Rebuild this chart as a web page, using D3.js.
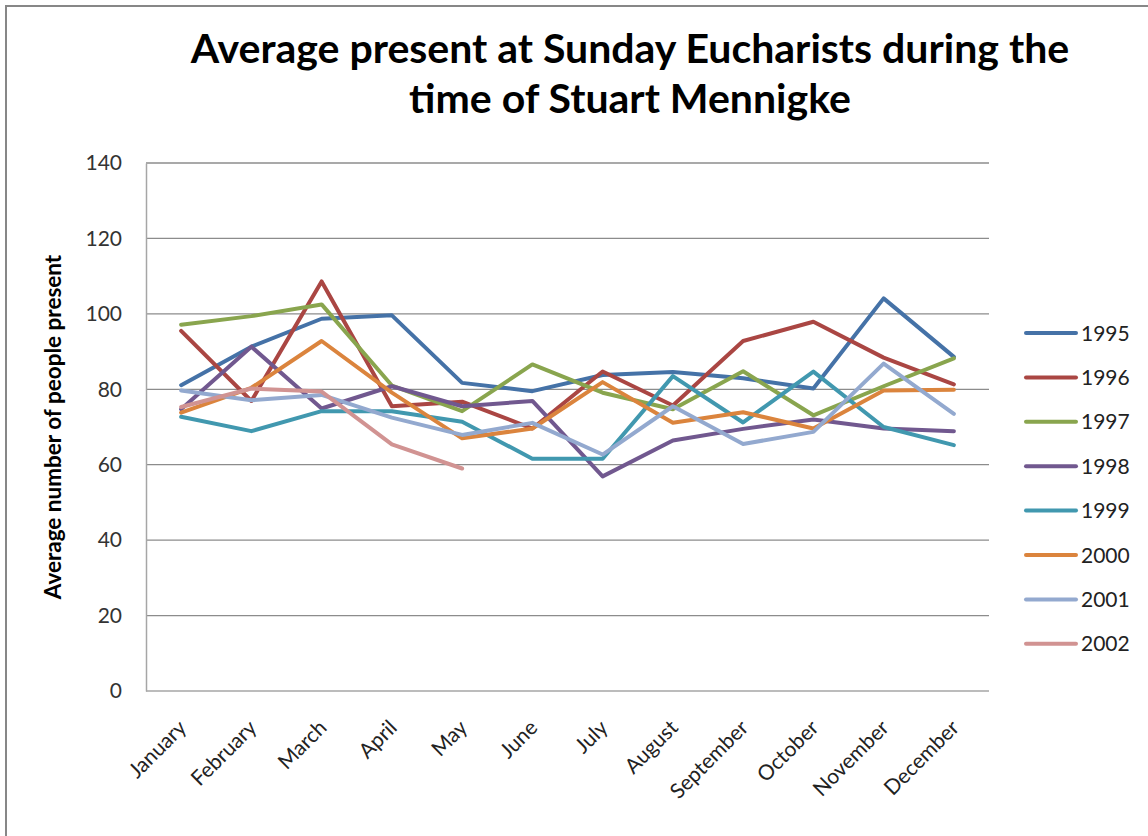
<!DOCTYPE html>
<html lang="en">
<head>
<meta charset="UTF-8">
<title>Average present at Sunday Eucharists</title>
<script src="https://cdn.jsdelivr.net/npm/d3@7"></script>
<style>
    body { margin: 0; background: #fff; }
    svg text { font-family: Lato, "Open Sans", "DejaVu Sans", sans-serif; }
</style>
</head>
<body>
<div id="chart"></div>
<script>
    // categories and series
    const months = ["January", "February", "March", "April", "May", "June",
        "July", "August", "September", "October", "November", "December"];
    const years = ["1995", "1996", "1997", "1998", "1999", "2000", "2001", "2002"];
    const colors = ["#4572A7", "#AA4643", "#89A54E", "#71588F", "#4198AF", "#DB843D", "#93A9CF", "#D19392"];

    const v1995 = [81.1, 91.3, 98.7, 99.6, 81.7, 79.5, 83.8, 84.6, 82.9, 80.2, 104.1, 88.6];
    const v1996 = [95.5, 76.9, 108.6, 75.5, 76.7, 69.6, 84.7, 75.7, 92.8, 97.9, 88.4, 81.3];
    const v1997 = [97.1, 99.4, 102.5, 81.0, 74.2, 86.6, 79.1, 74.7, 84.8, 73.1, 80.8, 88.2];
    const v1998 = [74.7, 91.3, 74.9, 80.8, 75.5, 76.9, 56.9, 66.4, 69.5, 72.0, 69.6, 68.9];
    const v1999 = [72.7, 68.9, 74.2, 74.2, 71.4, 61.6, 61.6, 83.5, 71.2, 84.7, 70.0, 65.2];
    const v2000 = [73.8, 80.4, 92.8, 79.1, 67.0, 69.6, 81.9, 71.1, 73.9, 69.6, 79.7, 79.9];
    const v2001 = [79.7, 77.1, 78.5, 72.5, 67.9, 71.1, 62.7, 75.5, 65.5, 68.7, 86.8, 73.5];
    const v2002 = [75.3, 80.2, 79.4, 65.4, 59.0];
    const yTicks = [0, 20, 40, 60, 80, 100, 120, 140];

    const seriesValues = [v1995, v1996, v1997, v1998, v1999, v2000, v2001, v2002];

    const width = 1148, height = 836;
    const plot = { left: 146, right: 989, top: 163, bottom: 691 };

    const svg = d3.select("#chart").append("svg")
        .attr("width", width)
        .attr("height", height);

    // outer chart frame (runs off the right and bottom of the picture)
    svg.append("rect")
        .attr("x", 6).attr("y", 6)
        .attr("width", width + 20).attr("height", height + 20)
        .attr("fill", "#fff")
        .attr("stroke", "#878787")
        .attr("stroke-width", 2);

    const x = d3.scalePoint().domain(months).range([plot.left, plot.right]).padding(0.5);
    const y = d3.scaleLinear().domain([0, 140]).range([plot.bottom, plot.top]);

    // gridlines
    svg.append("g")
        .selectAll("line")
        .data(yTicks.filter(d => d > 0))
        .join("line")
        .attr("x1", plot.left).attr("x2", plot.right)
        .attr("y1", d => y(d)).attr("y2", d => y(d))
        .attr("stroke", "#8c8c8c")
        .attr("stroke-width", 1.3);

    // y axis
    const yAxis = svg.append("g")
        .attr("transform", `translate(${plot.left},0)`)
        .call(d3.axisLeft(y).tickValues(yTicks).tickSize(0).tickPadding(24));
    yAxis.select(".domain").attr("stroke", "#a6a6a6").attr("stroke-width", 1.5);
    yAxis.selectAll("text")
        .attr("font-size", 21)
        .attr("fill", "#333")
        .style("font-family", "Lato, 'Open Sans', sans-serif");

    // x axis
    const xAxis = svg.append("g")
        .attr("transform", `translate(0,${plot.bottom})`)
        .call(d3.axisBottom(x).tickSize(0));
    xAxis.select(".domain").attr("stroke", "#a6a6a6").attr("stroke-width", 1.5)
        .attr("d", `M${plot.left},0H${plot.right}`);
    xAxis.selectAll("text")
        .attr("font-size", 21)
        .attr("fill", "#222")
        .attr("text-anchor", "end")
        .attr("dy", null)
        .attr("y", 0)
        .attr("transform", "translate(6,38) rotate(-45)")
        .style("font-family", "Lato, 'Open Sans', sans-serif");

    // lines
    const line = d3.line()
        .x((d, i) => x(months[i]))
        .y(d => y(d));

    svg.append("g")
        .selectAll("path")
        .data(seriesValues)
        .join("path")
        .attr("d", d => line(d))
        .attr("fill", "none")
        .attr("stroke", (d, i) => colors[i])
        .attr("stroke-width", 4)
        .attr("stroke-linejoin", "round")
        .attr("stroke-linecap", "round");

    // legend
    const legend = svg.append("g")
        .selectAll("g")
        .data(years)
        .join("g")
        .attr("transform", (d, i) => `translate(1026,${333 + i * 44.4})`);
    legend.append("line")
        .attr("x1", 0).attr("x2", 50)
        .attr("stroke", (d, i) => colors[i])
        .attr("stroke-width", 4)
        .attr("stroke-linecap", "round");
    legend.append("text")
        .attr("x", 55)
        .attr("dy", "0.36em")
        .attr("font-size", 21)
        .attr("fill", "#222")
        .text(d => d);

    // title
    const title = svg.append("text")
        .attr("text-anchor", "middle")
        .attr("font-size", 41)
        .attr("font-weight", "bold")
        .attr("fill", "#000");
    title.append("tspan").attr("x", 630).attr("y", 63)
        .text("Average present at Sunday Eucharists during the");
    title.append("tspan").attr("x", 630).attr("y", 113)
        .text("time of Stuart Mennigke");

    // y axis label
    svg.append("text")
        .attr("transform", "translate(61,427) rotate(-90)")
        .attr("text-anchor", "middle")
        .attr("font-size", 22.5)
        .attr("font-weight", "bold")
        .attr("fill", "#000")
        .text("Average number of people present");
</script>
</body>
</html>
